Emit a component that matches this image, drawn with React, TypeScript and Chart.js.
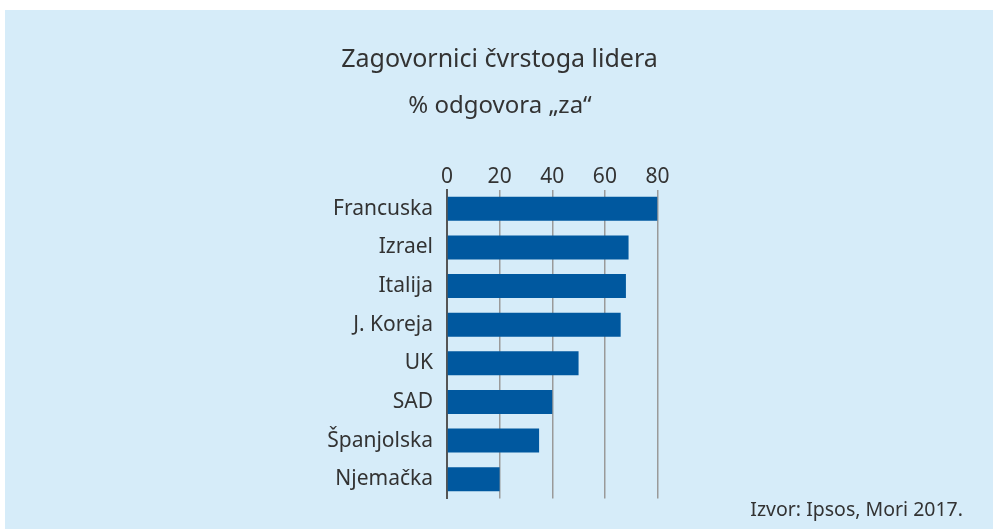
import React, { useEffect, useRef } from "react";
import { Chart, registerables } from "chart.js";

Chart.register(...registerables);

const categories = ["Francuska", "Izrael", "Italija", "J. Koreja", "UK", "SAD", "Španjolska", "Njemačka"];
const values = [80, 69, 68, 66, 50, 40, 35, 20];
const tickValues = [0, 20, 40, 60, 80];
const titleText = "Zagovornici čvrstoga lidera";
const subtitleText = "% odgovora „za“";
const sourceText = "Izvor: Ipsos, Mori 2017.";

const FONT = "'Noto Sans', sans-serif";
const TEXT_COLOR = "#333333";
const PANEL_COLOR = "#d6ecf9";
const BAR_COLOR = "#00589f";

const decorPlugin = {
  id: "decor",
  beforeDraw(chart: any) {
    const ctx = chart.ctx;
    ctx.save();
    ctx.fillStyle = "#ffffff";
    ctx.fillRect(0, 0, chart.width, chart.height);
    ctx.fillStyle = PANEL_COLOR;
    ctx.fillRect(5, 10, chart.width - 5, chart.height - 10);
    ctx.restore();
  },
  afterDraw(chart: any) {
    const ctx = chart.ctx;
    ctx.save();
    ctx.fillStyle = TEXT_COLOR;
    ctx.textBaseline = "alphabetic";
    ctx.textAlign = "center";
    ctx.font = `25px ${FONT}`;
    ctx.fillText(titleText, 499.5, 66.5);
    ctx.font = `24px ${FONT}`;
    ctx.fillText(subtitleText, 500, 113);
    ctx.textAlign = "right";
    ctx.font = `19.5px ${FONT}`;
    ctx.fillText(sourceText, 963, 516);
    ctx.restore();
  },
};

export default function App() {
  const ref = useRef<HTMLCanvasElement | null>(null);
  useEffect(() => {
    if (!ref.current) return;
    const chart = new Chart(ref.current, {
      type: "bar",
      data: {
        labels: categories,
        datasets: [
          {
            data: values,
            backgroundColor: BAR_COLOR,
            borderWidth: 0,
            categoryPercentage: 1,
            barPercentage: 0.62,
          },
        ],
      },
      options: {
        indexAxis: "y",
        animation: false,
        responsive: false,
        maintainAspectRatio: false,
        layout: { padding: { left: 0, top: 0, right: 335.5, bottom: 30.5 } },
        plugins: {
          legend: { display: false },
          title: { display: false },
          tooltip: { enabled: false },
        },
        scales: {
          x: {
            position: "top",
            min: 0,
            max: 80,
            afterBuildTicks: (scale: any) => {
              scale.ticks = tickValues.map((v) => ({ value: v }));
            },
            afterFit: (scale: any) => {
              scale.height = 189.5;
            },
            grid: {
              color: "#9a9a9a",
              lineWidth: 1.5,
              drawTicks: false,
            },
            border: { display: false },
            ticks: {
              color: TEXT_COLOR,
              font: { family: FONT, size: 21 },
              padding: 0,
            },
          },
          y: {
            afterFit: (scale: any) => {
              scale.width = 447;
            },
            grid: { display: false, drawTicks: false },
            border: { display: true, color: "#555555", width: 2 },
            ticks: {
              color: TEXT_COLOR,
              font: { family: FONT, size: 21 },
              padding: 14,
            },
          },
        },
      },
      plugins: [decorPlugin],
    });
    return () => chart.destroy();
  }, []);
  return (
    <div style={{ position: "absolute", left: 0, top: 0, width: 993, height: 529 }}>
      <canvas ref={ref} width={993} height={529} style={{ display: "block" }} />
    </div>
  );
}
